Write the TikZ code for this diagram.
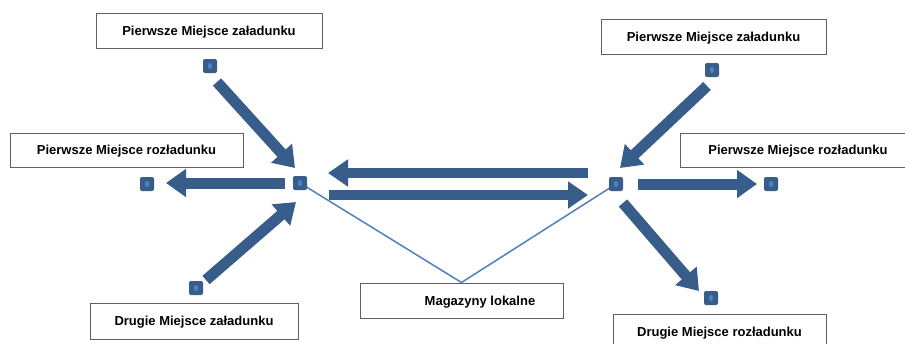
\documentclass[tikz,border=0pt]{standalone}
\usepackage{fontspec}
\setmainfont{Liberation Sans}
\usetikzlibrary{arrows.meta}
\definecolor{dblue}{HTML}{385D8A}
\definecolor{lblue}{HTML}{4F81BD}
\definecolor{bgray}{HTML}{606060}
\tikzset{
  lbox/.style={draw=bgray, line width=1pt, fill=white, inner sep=0pt, text depth=0pt,
    font=\fontsize{13}{15}\selectfont\bfseries},
  sq/.style={fill=dblue, rounded corners=2pt, minimum size=14pt, inner sep=0pt,
    path picture={\fill[lblue] ([xshift=-2pt,yshift=-3pt]path picture bounding box.center) rectangle ++(4pt,6pt);}},
  blk/.style={draw=dblue, line width=11pt, -{Triangle[length=20pt,width=27pt]}},
  blkm/.style={draw=dblue, line width=10pt, -{Triangle[length=20pt,width=26pt]}},
  thin/.style={draw=lblue, line width=1.5pt}
}
\begin{document}
\begin{tikzpicture}[x=1pt,y=-1pt]
\clip (0,0) rectangle (905,343);
\fill[white] (0,0) rectangle (905,343);
% boxes
\node[lbox, minimum width=226pt, minimum height=35pt] (b1) at (209,30.5) {Pierwsze Miejsce załadunku};
\node[lbox, minimum width=233pt, minimum height=34pt] (b2) at (126.5,150) {Pierwsze Miejsce rozładunku};
\node[lbox, minimum width=208pt, minimum height=36pt] (b3) at (194,321) {Drugie Miejsce załadunku};
\node[lbox, minimum width=225pt, minimum height=35pt] (b4) at (713.5,36.5) {Pierwsze Miejsce załadunku};
\node[lbox, minimum width=236pt, minimum height=34pt] (b5) at (798,150) {Pierwsze Miejsce rozładunku};
\node[lbox, minimum width=213pt, minimum height=35pt] (b6) at (719.5,331.5) {Drugie Miejsce rozładunku};
\node[lbox, minimum width=203pt, minimum height=35pt] (mag) at (461.5,300.5) {\hspace*{37pt}Magazyny lokalne};
% thin connector lines
\draw[thin] (300,183) -- (mag.north) -- (616,184);
% squares
\node[sq] (hubL) at (300,183) {};
\node[sq] (hubR) at (616,184) {};
\node[sq] (s1) at (210,66) {};
\node[sq] (s2) at (147,184) {};
\node[sq] (s3) at (196,288) {};
\node[sq] (s4) at (712,70) {};
\node[sq] (s5) at (771,184) {};
\node[sq] (s6) at (711,298) {};
% arrow ends
\coordinate (a1s) at (217,82);  \coordinate (a1e) at (295,168);
\coordinate (a2s) at (285,183); \coordinate (a2e) at (166,183);
\coordinate (a3s) at (206,280); \coordinate (a3e) at (296,202);
\coordinate (a4s) at (588,173); \coordinate (a4e) at (328,173);
\coordinate (a5s) at (329,195); \coordinate (a5e) at (588,195);
\coordinate (a6s) at (707,86);  \coordinate (a6e) at (620,168);
\coordinate (a7s) at (638,184); \coordinate (a7e) at (757,184);
\coordinate (a8s) at (623,203); \coordinate (a8e) at (699,291);
\draw[blk] (a1s) -- (a1e);
\draw[blk] (a2s) -- (a2e);
\draw[blk] (a3s) -- (a3e);
\draw[blkm] (a4s) -- (a4e);
\draw[blkm] (a5s) -- (a5e);
\draw[blk] (a6s) -- (a6e);
\draw[blk] (a7s) -- (a7e);
\draw[blk] (a8s) -- (a8e);
\end{tikzpicture}
\end{document}
